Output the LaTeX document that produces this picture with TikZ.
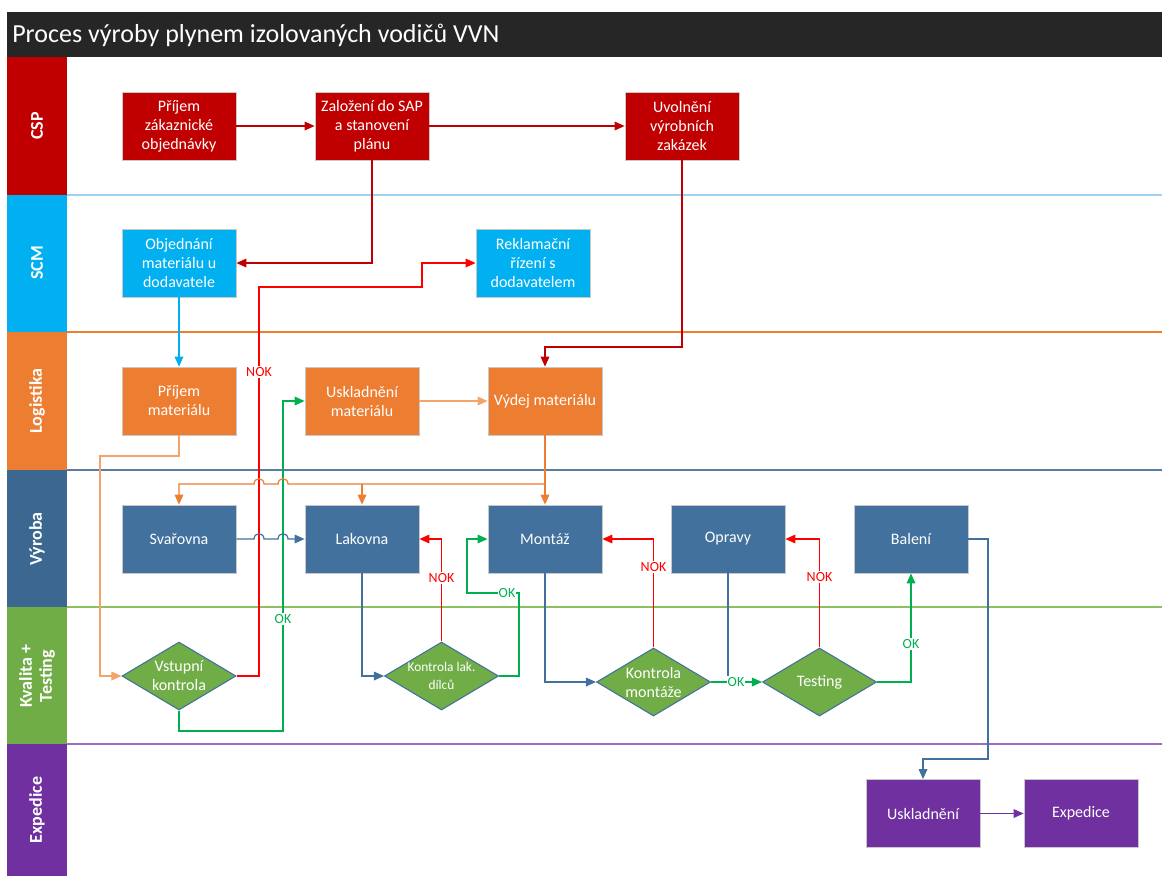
\documentclass[tikz,border=0pt]{standalone}
\usepackage{fontspec}
\setmainfont{Carlito}
\usetikzlibrary{shapes.geometric,arrows.meta}
\definecolor{cspc}{HTML}{C00000}
\definecolor{scmc}{HTML}{00B0F0}
\definecolor{logc}{HTML}{ED7D31}
\definecolor{logl}{HTML}{F4A468}
\definecolor{vyrc}{HTML}{41719C}
\definecolor{vyrl}{HTML}{3C6790}
\definecolor{kvc}{HTML}{70AD47}
\definecolor{expc}{HTML}{7030A0}
\definecolor{titlec}{HTML}{262626}
\definecolor{nokc}{HTML}{FF0000}
\definecolor{okc}{HTML}{00B050}
\definecolor{boxborder}{HTML}{C8C8C8}
\definecolor{sep1}{HTML}{9DD3F0}
\definecolor{sep3}{HTML}{5A7CA0}
\definecolor{sep4}{HTML}{8DC060}
\definecolor{sep5}{HTML}{9B6BC5}
\begin{document}
\begin{tikzpicture}[x=0.75pt,y=-0.75pt,
  box/.style={draw=boxborder, line width=0.6pt, minimum width=85.5pt, minimum height=51pt,
    inner sep=1pt, align=center, text=white, font=\fontsize{12}{14.25}\selectfont},
  dia/.style={shape=diamond, aspect=1.68, draw=vyrc, line width=0.8pt, fill=kvc,
    minimum width=85.5pt, minimum height=51pt, inner sep=-4pt, align=center, text=white,
    font=\fontsize{12}{14.25}\selectfont},
  lane/.style={rotate=90, text=white, align=center, font=\bfseries\fontsize{13.5}{15}\selectfont},
  conn/.style={line width=0.9pt},
  arr/.style={conn, -{Triangle[length=7.5pt,width=6.5pt]}},
  lbl/.style={fill=white, inner sep=0.8pt, font=\fontsize{10.5}{11}\selectfont}
]
\fill[white] (0,0) rectangle (1162,876);
\useasboundingbox (0,0) rectangle (1162,876);

% title
\fill[titlec] (7,12) rectangle (1162,57);
\node[anchor=west, text=white, font=\fontsize{19.5}{22}\selectfont, inner sep=0pt] (title) at (12,35) {Proces výroby plynem izolovaných vodičů VVN};

% lane label columns
\fill[cspc] (7,57) rectangle (67,195);
\fill[scmc] (7,195) rectangle (67,332);
\fill[logc] (7,332) rectangle (67,470);
\fill[vyrl] (7,470) rectangle (67,607);
\fill[kvc] (7,607) rectangle (67,744);
\fill[expc] (7,744) rectangle (67,876);
\node[lane] (lcsp) at (37,126) {CSP};
\node[lane] (lscm) at (37,263) {SCM};
\node[lane] (llog) at (37,401) {Logistika};
\node[lane] (lvyr) at (37,539) {Výroba};
\node[lane] (lkv) at (37,676) {Kvalita +\\Testing};
\node[lane] (lexp) at (37,810) {Expedice};

% lane separators
\draw[sep1, line width=1pt] (67,195) -- (1162,195);
\draw[logc, line width=0.8pt] (67,332) -- (1162,332);
\draw[sep3, line width=1pt] (67,470) -- (1162,470);
\draw[sep4, line width=1pt] (67,607) -- (1162,607);
\draw[sep5, line width=1.2pt] (67,744) -- (1162,744);

% nodes
\node[box, fill=cspc] (prz) at (179,126) {Příjem\\zákaznické\\objednávky};
\node[box, fill=cspc] (zal) at (372,126) {Založení do SAP\\a stanovení\\plánu};
\node[box, fill=cspc] (uvo) at (682,126) {Uvolnění\\výrobních\\zakázek};
\node[box, fill=scmc] (obj) at (179,263) {Objednání\\materiálu u\\dodavatele};
\node[box, fill=scmc] (rek) at (533,263) {Reklamační\\řízení s\\dodavatelem};
\node[box, fill=logc] (prm) at (179,401) {Příjem\\materiálu};
\node[box, fill=logc] (usm) at (362,401) {Uskladnění\\materiálu};
\node[box, fill=logc] (vyd) at (545,401) {Výdej materiálu};
\node[box, fill=vyrc] (sva) at (179,539) {Svařovna};
\node[box, fill=vyrc] (lak) at (362,539) {Lakovna};
\node[box, fill=vyrc] (mon) at (545,539) {Montáž};
\node[box, fill=vyrc] (opr) at (728,539) {Opravy};
\node[box, fill=vyrc] (bal) at (911,539) {Balení};
\node[dia] (vst) at (179,676) {Vstupní\\kontrola};
\node[dia, font=\fontsize{10}{13}\selectfont] (kld) at (441.5,676) {Kontrola lak.\\dílců};
\node[dia] (kmo) at (653.5,682) {Kontrola\\montáže};
\node[dia] (tes) at (819.5,682) {Testing};
\node[box, fill=expc] (usk) at (923,813.5) {Uskladnění};
\node[box, fill=expc] (exd) at (1081,813.5) {Expedice};

% CSP connectors
\draw[arr, cspc] (prz.east) -- (zal.west);
\draw[arr, cspc] (zal.east) -- (uvo.west);
\draw[arr, cspc] (zal.south) -- (372,263) -- (obj.east);
\draw[arr, cspc] (uvo.south) -- (682,347) -- (545,347) -- (vyd.north);

% SCM / Logistika
\draw[arr, scmc] (obj.south) -- (prm.north);
\draw[arr, logl] (prm.south) -- (179,456) -- (100,456) -- (100,676) -- (vst.west);
\draw[arr, logl] (usm.east) -- (vyd.west);

% NOK from Vstupni kontrola
\draw[arr, nokc] (vst.east) -- (259,676) -- (259,287) -- (422,287) -- (422,263) -- (rek.west);
% OK from Vstupni kontrola
\draw[arr, okc] (vst.south) -- (179,731) -- (283,731) -- (283,401) -- (usm.west);

% Vydej distribution
\draw[arr, logc] (vyd.south) -- (mon.north);
\draw[arr, logc] (545,484) -- (288,484) .. controls (288,477) and (278,477) .. (278,484)
  -- (264,484) .. controls (264,477) and (254,477) .. (254,484) -- (179,484) -- (sva.north);
\draw[arr, logc] (362,484) -- (lak.north);

% Vyroba
\draw[arr, vyrc] (sva.east) -- (254,539) .. controls (254,532) and (264,532) .. (264,539)
  -- (278,539) .. controls (278,532) and (288,532) .. (288,539) -- (lak.west);
\draw[arr, vyrc] (lak.south) -- (362,676) -- (kld.west);
\draw[arr, nokc] (kld.north) -- (441.5,539) -- (lak.east);
\draw[arr, okc] (kld.east) -- (519,676) -- (519,593) -- (467,593) -- (467,539) -- (mon.west);
\draw[arr, vyrc] (mon.south) -- (545,682) -- (kmo.west);
\draw[arr, nokc] (kmo.north) -- (653.5,539) -- (mon.east);
\draw[arr, okc] (kmo.east) -- (tes.west);
\coordinate (oprj) at (728,682);
\draw[conn, vyrc] (opr.south) -- (oprj);
\draw[arr, nokc] (tes.north) -- (819.5,539) -- (opr.east);
\draw[arr, okc] (tes.east) -- (911,682) -- (bal.south);
\draw[arr, vyrc] (bal.east) -- (988,539) -- (988,759) -- (923,759) -- (usk.north);
\draw[arr, expc] (usk.east) -- (exd.west);

% labels
\node[lbl, text=nokc] (n1) at (259,372) {NOK};
\node[lbl, text=okc] (o1) at (283,619) {OK};
\node[lbl, text=nokc] (n2) at (441.5,578) {NOK};
\node[lbl, text=okc] (o2) at (507,593) {OK};
\node[lbl, text=nokc] (n3) at (653.5,567) {NOK};
\node[lbl, text=okc] (o3) at (736,682) {OK};
\node[lbl, text=nokc] (n4) at (819.5,577) {NOK};
\node[lbl, text=okc] (o4) at (911,644) {OK};
\end{tikzpicture}
\end{document}
